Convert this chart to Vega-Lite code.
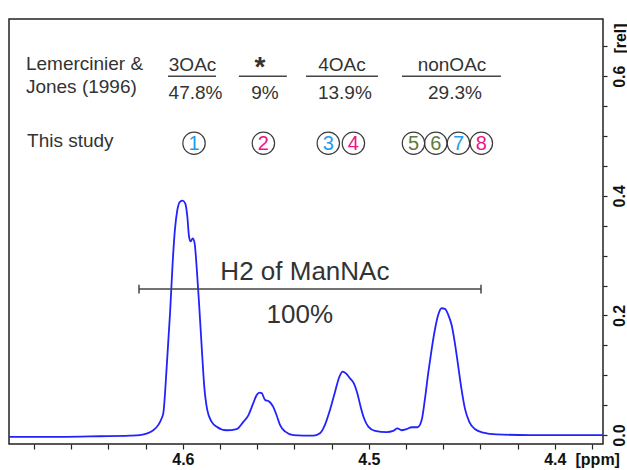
{
  "$schema": "https://vega.github.io/schema/vega-lite/v6.json",
  "width": 594,
  "height": 425,
  "autosize": {"type": "none"},
  "padding": {"left": 9, "top": 19, "right": 24, "bottom": 26},
  "background": "white",
  "config": {
    "font": "Liberation Sans",
    "view": {"stroke": "#222", "strokeWidth": 1.5}
  },
  "encoding": {
    "x": {
      "field": "x", "type": "quantitative",
      "scale": {"domain": [4.3741, 4.6935], "reverse": true, "nice": false, "zero": false},
      "axis": {
        "orient": "bottom", "grid": false, "domain": false,
        "values": [4.38, 4.40, 4.42, 4.44, 4.46, 4.48, 4.50, 4.52, 4.54, 4.56, 4.58, 4.60, 4.62, 4.64, 4.66, 4.68],
        "labelExpr": "abs(datum.value*10 - round(datum.value*10)) < 0.01 ? format(datum.value, '.1f') : ''",
        "labelFont": "Liberation Sans", "labelFontSize": 16, "labelFontWeight": "bold", "labelColor": "#111",
        "labelPadding": 2, "labelFlush": false, "labelOverlap": false,
        "tickSize": 5, "tickColor": "#222", "tickWidth": 1.2,
        "title": "[ppm]", "titleX": 566, "titleY": 7, "titleAlign": "left", "titleBaseline": "top", "titleAnchor": null,
        "titleFont": "Liberation Sans", "titleFontSize": 16, "titleFontWeight": "bold", "titleColor": "#111"
      }
    },
    "y": {
      "field": "y", "type": "quantitative",
      "scale": {"domain": [-0.015, 0.6957], "nice": false, "zero": false},
      "axis": {
        "orient": "right", "grid": false, "domain": false,
        "values": [0, 0.05, 0.1, 0.15, 0.2, 0.25, 0.3, 0.35, 0.4, 0.45, 0.5, 0.55, 0.6, 0.65],
        "labelExpr": "abs(datum.value*5 - round(datum.value*5)) < 0.01 ? format(datum.value, '.1f') : ''",
        "labelAngle": 270, "labelAlign": "center", "labelBaseline": "top", "labelPadding": 4,
        "labelFont": "Liberation Sans", "labelFontSize": 16, "labelFontWeight": "bold", "labelColor": "#111",
        "labelFlush": false, "labelOverlap": false,
        "tickSize": 4, "tickColor": "#222", "tickWidth": 1.2,
        "title": "[rel]", "titleAngle": 270, "titleX": 9, "titleY": 19, "titleAlign": "center", "titleBaseline": "top", "titleAnchor": null,
        "titleFont": "Liberation Sans", "titleFontSize": 16, "titleFontWeight": "bold", "titleColor": "#111"
      }
    }
  },
  "layer": [
    {
      "data": {"values": [
        {"x": 4.6935, "y": -0.003}, {"x": 4.6661, "y": -0.003}, {"x": 4.6446, "y": -0.002}, {"x": 4.6285, "y": -0.001},
        {"x": 4.6231, "y": 0.0}, {"x": 4.6159, "y": 0.008}, {"x": 4.6132, "y": 0.017}, {"x": 4.6114, "y": 0.028},
        {"x": 4.6105, "y": 0.037}, {"x": 4.6087, "y": 0.114}, {"x": 4.6069, "y": 0.204}, {"x": 4.6055, "y": 0.288},
        {"x": 4.6043, "y": 0.343}, {"x": 4.6030, "y": 0.376}, {"x": 4.6016, "y": 0.390}, {"x": 4.6001, "y": 0.392},
        {"x": 4.5987, "y": 0.387}, {"x": 4.5976, "y": 0.365}, {"x": 4.5967, "y": 0.332}, {"x": 4.5958, "y": 0.324},
        {"x": 4.5947, "y": 0.329}, {"x": 4.5937, "y": 0.321}, {"x": 4.5926, "y": 0.281}, {"x": 4.5912, "y": 0.215},
        {"x": 4.5899, "y": 0.148}, {"x": 4.5885, "y": 0.081}, {"x": 4.5869, "y": 0.042}, {"x": 4.5845, "y": 0.022},
        {"x": 4.5818, "y": 0.014}, {"x": 4.5765, "y": 0.008}, {"x": 4.5711, "y": 0.010},
        {"x": 4.5675, "y": 0.022}, {"x": 4.5648, "y": 0.033}, {"x": 4.5622, "y": 0.053}, {"x": 4.5603, "y": 0.067},
        {"x": 4.5589, "y": 0.071}, {"x": 4.5576, "y": 0.070}, {"x": 4.5559, "y": 0.059}, {"x": 4.5536, "y": 0.056},
        {"x": 4.5514, "y": 0.047}, {"x": 4.5496, "y": 0.033}, {"x": 4.5478, "y": 0.017}, {"x": 4.5451, "y": 0.006},
        {"x": 4.5407, "y": 0.0}, {"x": 4.5299, "y": -0.001},
        {"x": 4.5263, "y": 0.003}, {"x": 4.5236, "y": 0.017}, {"x": 4.5209, "y": 0.042}, {"x": 4.5182, "y": 0.072},
        {"x": 4.5159, "y": 0.097}, {"x": 4.5141, "y": 0.106}, {"x": 4.5123, "y": 0.103}, {"x": 4.5102, "y": 0.095},
        {"x": 4.5080, "y": 0.086}, {"x": 4.5062, "y": 0.070}, {"x": 4.5044, "y": 0.047}, {"x": 4.5026, "y": 0.028},
        {"x": 4.5003, "y": 0.014}, {"x": 4.4967, "y": 0.007}, {"x": 4.4904, "y": 0.005},
        {"x": 4.4869, "y": 0.007}, {"x": 4.4847, "y": 0.011}, {"x": 4.4824, "y": 0.008}, {"x": 4.4797, "y": 0.010},
        {"x": 4.4770, "y": 0.013}, {"x": 4.4738, "y": 0.013}, {"x": 4.4716, "y": 0.025},
        {"x": 4.4699, "y": 0.059}, {"x": 4.4681, "y": 0.103}, {"x": 4.4663, "y": 0.142}, {"x": 4.4645, "y": 0.176},
        {"x": 4.4627, "y": 0.201}, {"x": 4.4609, "y": 0.212}, {"x": 4.4591, "y": 0.211}, {"x": 4.4573, "y": 0.201},
        {"x": 4.4555, "y": 0.184}, {"x": 4.4537, "y": 0.153}, {"x": 4.4519, "y": 0.114}, {"x": 4.4501, "y": 0.075},
        {"x": 4.4484, "y": 0.045}, {"x": 4.4460, "y": 0.022}, {"x": 4.4430, "y": 0.010}, {"x": 4.4385, "y": 0.004},
        {"x": 4.4313, "y": 0.001}, {"x": 4.4134, "y": 0.0}, {"x": 4.3741, "y": 0.0}
      ]},
      "mark": {"type": "line", "color": "#2222ff", "strokeWidth": 1.8, "interpolate": "monotone", "clip": true}
    },
    {
      "data": {"values": [
        {"x": 4.6844, "y": 0.610, "label": "Lemercinier &"},
        {"x": 4.6844, "y": 0.572, "label": "Jones (1996)"},
        {"x": 4.6838, "y": 0.482, "label": "This study"}
      ]},
      "mark": {"type": "text", "align": "left", "baseline": "alphabetic", "fontSize": 19, "color": "#333", "font": "Liberation Sans"},
      "encoding": {"text": {"field": "label"}}
    },
    {
      "data": {"values": [
        {"x": 4.5948, "y": 0.609, "label": "3OAc"},
        {"x": 4.5932, "y": 0.562, "label": "47.8%"},
        {"x": 4.5559, "y": 0.562, "label": "9%"},
        {"x": 4.5145, "y": 0.609, "label": "4OAc"},
        {"x": 4.5129, "y": 0.562, "label": "13.9%"},
        {"x": 4.4553, "y": 0.609, "label": "nonOAc"},
        {"x": 4.4537, "y": 0.562, "label": "29.3%"}
      ]},
      "mark": {"type": "text", "align": "center", "baseline": "alphabetic", "fontSize": 19, "color": "#333", "font": "Liberation Sans"},
      "encoding": {"text": {"field": "label"}}
    },
    {
      "data": {"values": [{"x": 4.5586, "y": 0.600, "label": "*"}]},
      "mark": {"type": "text", "align": "center", "baseline": "alphabetic", "fontSize": 28, "fontWeight": "bold", "color": "#333", "font": "Liberation Sans"},
      "encoding": {"text": {"field": "label"}}
    },
    {
      "data": {"values": [
        {"x": 4.6080, "x2": 4.5822, "y": 0.600},
        {"x": 4.5699, "x2": 4.5441, "y": 0.600},
        {"x": 4.5338, "x2": 4.4951, "y": 0.600},
        {"x": 4.4822, "x2": 4.4290, "y": 0.600}
      ]},
      "mark": {"type": "rule", "color": "#444", "strokeWidth": 1.3},
      "encoding": {"x2": {"field": "x2"}}
    },
    {
      "data": {"values": [
        {"x": 4.5940, "y": 0.488, "n": "1", "group": "A"},
        {"x": 4.5567, "y": 0.488, "n": "2", "group": "B"},
        {"x": 4.5218, "y": 0.488, "n": "3", "group": "A"},
        {"x": 4.5083, "y": 0.488, "n": "4", "group": "B"},
        {"x": 4.4760, "y": 0.488, "n": "5", "group": "C"},
        {"x": 4.4640, "y": 0.488, "n": "6", "group": "C"},
        {"x": 4.4518, "y": 0.488, "n": "7", "group": "A"},
        {"x": 4.4395, "y": 0.488, "n": "8", "group": "B"}
      ]},
      "layer": [
        {
          "mark": {"type": "point", "shape": "circle", "size": 500, "filled": false, "stroke": "#3a3a3a", "strokeWidth": 1.2, "opacity": 1}
        },
        {
          "mark": {"type": "text", "align": "center", "baseline": "middle", "fontSize": 20, "dy": 1, "font": "Liberation Sans"},
          "encoding": {
            "text": {"field": "n"},
            "color": {"field": "group", "type": "nominal", "legend": null,
              "scale": {"domain": ["A", "B", "C"], "range": ["#1f9cf0", "#f0128a", "#5e7a3c"]}}
          }
        }
      ]
    },
    {
      "data": {"values": [
        {"x": 4.5344, "y": 0.259, "label": "H2 of ManNAc"},
        {"x": 4.5371, "y": 0.187, "label": "100%"}
      ]},
      "mark": {"type": "text", "align": "center", "baseline": "alphabetic", "fontSize": 26, "color": "#333", "font": "Liberation Sans"},
      "encoding": {"text": {"field": "label"}}
    },
    {
      "data": {"values": [{"x": 4.6236, "x2": 4.4397, "y": 0.244}]},
      "mark": {"type": "rule", "color": "#444", "strokeWidth": 1.5},
      "encoding": {"x2": {"field": "x2"}}
    },
    {
      "data": {"values": [
        {"x": 4.6236, "y": 0.2365, "y2": 0.2515},
        {"x": 4.4397, "y": 0.2365, "y2": 0.2515}
      ]},
      "mark": {"type": "rule", "color": "#444", "strokeWidth": 1.5},
      "encoding": {"y2": {"field": "y2"}}
    }
  ]
}
